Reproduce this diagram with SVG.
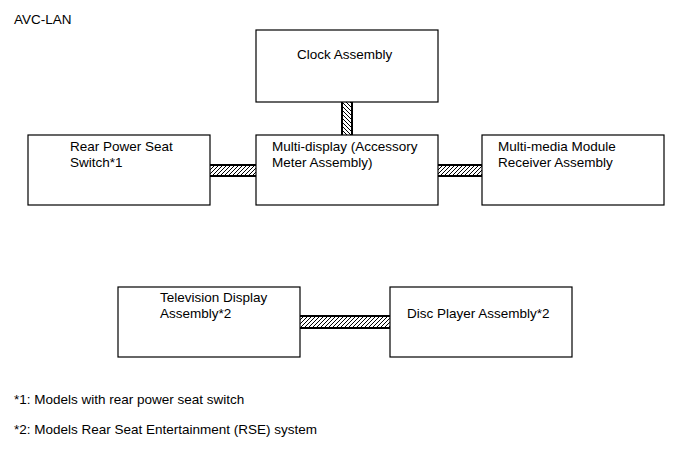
<svg xmlns="http://www.w3.org/2000/svg" width="689" height="464" viewBox="0 0 689 464">
<style>
text{font-family:"Liberation Sans",Arial,sans-serif;font-size:13.5px;fill:#000}
.box{fill:#fff;stroke:#000;stroke-width:1.2}
.hb{stroke:#000;stroke-width:2}
</style>
<defs>
<pattern id="hf" patternUnits="userSpaceOnUse" width="4" height="4">
<path d="M-1,1 l2,-2 M0,4 l4,-4 M3,5 l2,-2" stroke="#000" stroke-width="1"/>
</pattern>
<pattern id="hb" patternUnits="userSpaceOnUse" width="4" height="4">
<path d="M-1,3 l2,2 M0,0 l4,4 M3,-1 l2,2" stroke="#000" stroke-width="1"/>
</pattern>
</defs>
<rect width="689" height="464" fill="#fff"/>
<text x="14" y="24">AVC-LAN</text>
<g id="connectors">
<g id="c-clock-multi"><rect x="342" y="102" width="10" height="33" fill="url(#hb)"/><line class="hb" x1="342" y1="102" x2="342" y2="135"/><line class="hb" x1="352" y1="102" x2="352" y2="135"/></g>
<g id="c-rear-multi"><rect x="210" y="165" width="46" height="11" fill="url(#hf)"/><line class="hb" x1="210" y1="165" x2="256" y2="165"/><line class="hb" x1="210" y1="176" x2="256" y2="176"/></g>
<g id="c-multi-media"><rect x="438" y="165" width="44" height="11" fill="url(#hf)"/><line class="hb" x1="438" y1="165" x2="482" y2="165"/><line class="hb" x1="438" y1="176" x2="482" y2="176"/></g>
<g id="c-tv-disc"><rect x="300" y="316" width="90" height="12" fill="url(#hf)"/><line class="hb" x1="300" y1="316" x2="390" y2="316"/><line class="hb" x1="300" y1="328" x2="390" y2="328"/></g>
</g>
<g id="clock"><rect class="box" x="256" y="30" width="182" height="72"/><text x="297" y="59">Clock Assembly</text></g>
<g id="rear"><rect class="box" x="28" y="135" width="182" height="70"/><text x="70" y="151">Rear Power Seat</text><text x="70" y="167">Switch*1</text></g>
<g id="multi"><rect class="box" x="256" y="135" width="182" height="70"/><text x="272" y="151">Multi-display (Accessory</text><text x="272" y="167">Meter Assembly)</text></g>
<g id="media"><rect class="box" x="482" y="135" width="182" height="70"/><text x="498" y="151">Multi-media Module</text><text x="498" y="167">Receiver Assembly</text></g>
<g id="tv"><rect class="box" x="118" y="287" width="182" height="70"/><text x="160" y="302">Television Display</text><text x="160" y="318">Assembly*2</text></g>
<g id="disc"><rect class="box" x="390" y="287" width="182" height="70"/><text x="407" y="318">Disc Player Assembly*2</text></g>
<text x="14" y="404">*1: Models with rear power seat switch</text>
<text x="14" y="434">*2: Models Rear Seat Entertainment (RSE) system</text>
</svg>
